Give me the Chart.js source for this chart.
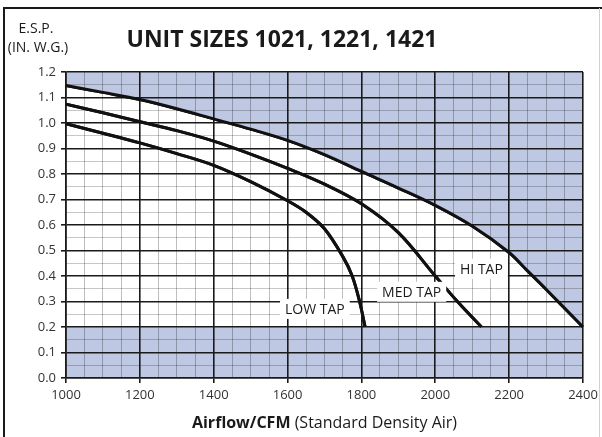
<!DOCTYPE html>
<html>
<head>
<meta charset="utf-8">
<script src="https://cdn.jsdelivr.net/npm/chart.js@4"></script>
<style>
  html, body { margin: 0; padding: 0; background: #fff; }
  #wrap { width: 602px; height: 437px; position: relative; }
</style>
</head>
<body>
<div id="wrap"><canvas id="chart" width="602" height="437"></canvas></div>
<script>
// fan curves (CFM vs E.S.P. in. w.g.)
const hiCfm  = [1000, 1100, 1200, 1300, 1400, 1500, 1600, 1700, 1800, 1900, 2000, 2100, 2200, 2250, 2300, 2400];
const hiEsp  = [1.147, 1.12, 1.092, 1.056, 1.016, 0.976, 0.932, 0.876, 0.81, 0.745, 0.677, 0.596, 0.492, 0.42, 0.348, 0.2];
const medCfm = [1000, 1100, 1200, 1300, 1400, 1500, 1600, 1700, 1800, 1900, 2000, 2060, 2125];
const medEsp = [1.074, 1.04, 1.005, 0.97, 0.929, 0.878, 0.822, 0.76, 0.683, 0.57, 0.40, 0.30, 0.2];
const lowCfm = [1000, 1100, 1200, 1300, 1400, 1500, 1600, 1650, 1700, 1750, 1775, 1795, 1810];
const lowEsp = [0.997, 0.96, 0.922, 0.88, 0.834, 0.77, 0.695, 0.65, 0.585, 0.475, 0.40, 0.30, 0.2];

// shaded band at the bottom (below 0.2)
const bandCfm = [1000, 2400];
const bandEsp = [0.2, 0.2];

// curve labels: [text, cfm, esp]
const tapLabels = [
  ["HI TAP", 2125, 0.428],
  ["MED TAP", 1936, 0.338],
  ["LOW TAP", 1674, 0.271]
];

const title = "UNIT SIZES 1021, 1221, 1421";
const shade = "#bec8e2";
const FONT = "'Open Sans', 'DejaVu Sans', sans-serif";

const pts = (xs, ys) => xs.map((x, i) => ({ x: x, y: ys[i] }));
const isMajorX = v => Math.abs(v % 200) < 1e-6;
const isMajorY = v => Math.abs(v * 10 - Math.round(v * 10)) < 1e-6;

function curve(label, xs, ys) {
  return {
    label: label,
    data: pts(xs, ys),
    borderColor: "#111",
    borderWidth: 3,
    pointRadius: 0,
    fill: false,
    tension: 0.35,
    isCurve: true
  };
}

// redraw curves over the grid, then labels and the page texts
const overlay = {
  id: "overlay",
  afterDraw(chart) {
    const ctx = chart.ctx;
    const a = chart.chartArea;
    const xs = chart.scales.x, ys = chart.scales.y;

    ctx.save();
    ctx.beginPath();
    ctx.rect(a.left - 2, a.top - 2, a.right - a.left + 4, a.bottom - a.top + 4);
    ctx.clip();
    chart.data.datasets.forEach((ds, i) => {
      if (ds.isCurve) chart.getDatasetMeta(i).dataset.draw(ctx, a);
    });
    ctx.restore();

    ctx.save();
    ctx.font = "14px " + FONT;
    ctx.textAlign = "center";
    ctx.textBaseline = "middle";
    tapLabels.forEach(l => {
      const px = xs.getPixelForValue(l[1]);
      const py = ys.getPixelForValue(l[2]);
      const w = ctx.measureText(l[0]).width + 10;
      ctx.fillStyle = "#fff";
      ctx.fillRect(px - w / 2, py - 10, w, 20);
      ctx.fillStyle = "#1a1a1a";
      ctx.fillText(l[0], px, py + 1);
    });

    // frame
    ctx.strokeStyle = "#1a1a1a";
    ctx.lineWidth = 2;
    ctx.beginPath();
    ctx.moveTo(4, 437);
    ctx.lineTo(4, 8);
    ctx.lineTo(602, 8);
    ctx.stroke();
    ctx.strokeStyle = "#d0d0d0";
    ctx.lineWidth = 1;
    ctx.beginPath();
    ctx.moveTo(599.5, 8);
    ctx.lineTo(599.5, 437);
    ctx.stroke();

    // title
    ctx.fillStyle = "#1a1a1a";
    ctx.font = "bold 23px " + FONT;
    ctx.fillText(title, 282, 40);

    // y axis title
    ctx.font = "14px " + FONT;
    ctx.fillText("E.S.P.", 36, 29);
    ctx.fillText("(IN. W.G.)", 38, 48);

    // x axis title, bold part + regular part
    const b = "Airflow/CFM", r = " (Standard Density Air)";
    ctx.font = "bold 16px " + FONT;
    const wb = ctx.measureText(b).width;
    ctx.font = "16px " + FONT;
    const wr = ctx.measureText(r).width;
    let x0 = (a.left + a.right) / 2 - (wb + wr) / 2;
    ctx.textAlign = "left";
    ctx.font = "bold 16px " + FONT;
    ctx.fillText(b, x0, 423);
    ctx.font = "16px " + FONT;
    ctx.fillText(r, x0 + wb, 423);
    ctx.restore();
  }
};

new Chart(document.getElementById("chart"), {
  type: "line",
  data: {
    datasets: [
      {
        label: "top shade",
        data: pts(hiCfm, hiEsp),
        borderWidth: 0,
        borderColor: "rgba(0,0,0,0)",
        backgroundColor: shade,
        pointRadius: 0,
        fill: "end",
        tension: 0.35
      },
      {
        label: "bottom shade",
        data: pts(bandCfm, bandEsp),
        borderWidth: 0,
        borderColor: "rgba(0,0,0,0)",
        backgroundColor: shade,
        pointRadius: 0,
        fill: "start"
      },
      curve("HI TAP", hiCfm, hiEsp),
      curve("MED TAP", medCfm, medEsp),
      curve("LOW TAP", lowCfm, lowEsp)
    ]
  },
  options: {
    responsive: false,
    animation: false,
    layout: { padding: { left: 0, right: 19, top: 72, bottom: 29 } },
    plugins: {
      legend: { display: false },
      tooltip: { enabled: false }
    },
    scales: {
      x: {
        type: "linear",
        min: 1000,
        max: 2400,
        afterFit: s => { s.height = 30; },
        grid: {
          z: 1,
          color: c => isMajorX(c.tick.value) ? "#1a1a1a" : "rgba(0,0,0,0.32)",
          lineWidth: c => isMajorX(c.tick.value) ? 1.6 : 0.8,
          tickColor: c => isMajorX(c.tick.value) ? "#1a1a1a" : "rgba(0,0,0,0)",
          tickLength: 5
        },
        border: { z: 1, color: "#1a1a1a", width: 1.6 },
        ticks: {
          stepSize: 50,
          maxTicksLimit: 100,
          autoSkip: false,
          maxRotation: 0,
          padding: 4,
          color: "#333",
          font: { family: FONT, size: 13 },
          callback: v => isMajorX(v) ? String(v) : ""
        }
      },
      y: {
        type: "linear",
        min: 0,
        max: 1.2,
        afterFit: s => { s.width = 66; },
        grid: {
          z: 1,
          color: c => isMajorY(c.tick.value) ? "#1a1a1a" : "rgba(0,0,0,0.28)",
          lineWidth: c => isMajorY(c.tick.value) ? 1.6 : 0.8,
          tickColor: c => isMajorY(c.tick.value) ? "#1a1a1a" : "rgba(0,0,0,0)",
          tickLength: 5
        },
        border: { z: 1, color: "#1a1a1a", width: 1.6 },
        ticks: {
          stepSize: 0.05,
          maxTicksLimit: 100,
          autoSkip: false,
          padding: 5,
          color: "#333",
          font: { family: FONT, size: 13 },
          callback: v => isMajorY(v) ? v.toFixed(1) : ""
        }
      }
    }
  },
  plugins: [overlay]
});
</script>
</body>
</html>
